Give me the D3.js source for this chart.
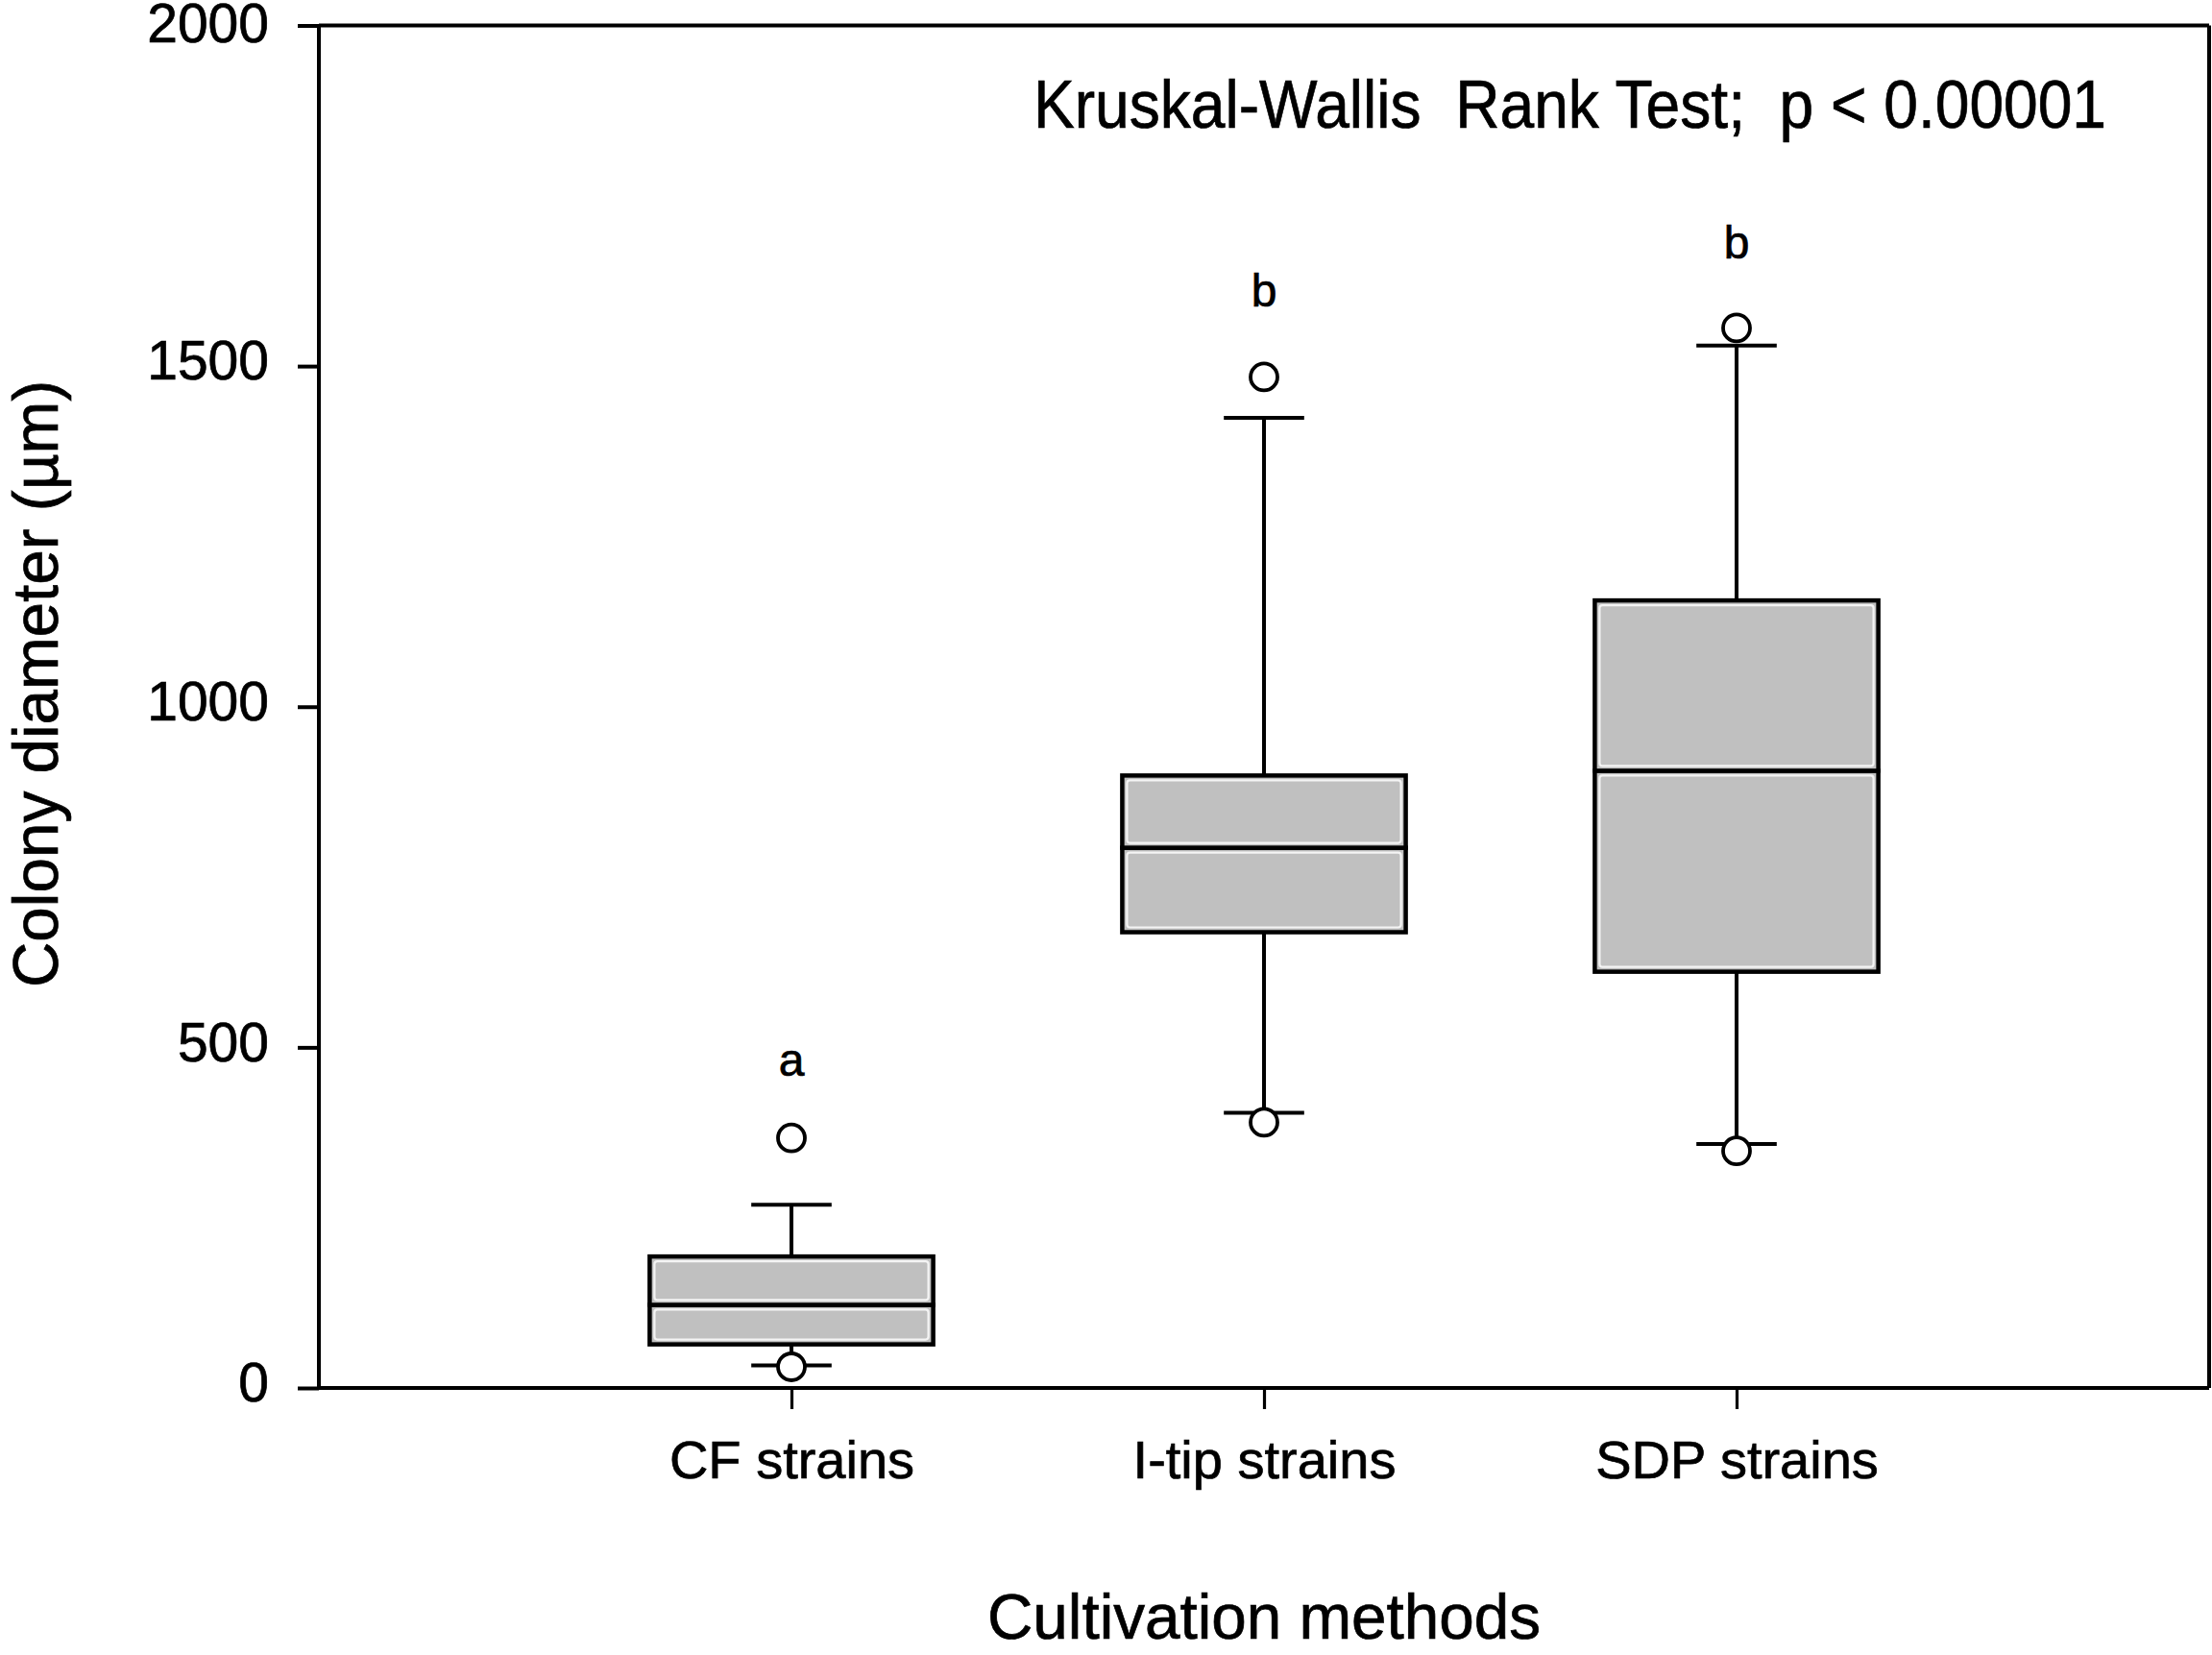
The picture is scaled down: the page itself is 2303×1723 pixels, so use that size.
<!DOCTYPE html>
<html><head><meta charset="utf-8">
<script src="https://cdn.jsdelivr.net/npm/d3@7"></script>
<style>html,body{margin:0;padding:0;background:#fff;}svg{display:block;}</style>
</head><body>
<script>
const categories = ["CF strains", "I-tip strains", "SDP strains"];
const q1 = [64, 669, 611];
const median = [122, 793, 906];
const q3 = [193, 899, 1156];
const whiskerLow = [33, 404, 358];
const whiskerHigh = [269, 1424, 1530];
const outlierHigh = [367, 1484, 1556];
const outlierLow = [31, 390, 348];
const groupLetters = ["a", "b", "b"];
const letterAt = [458, 1588, 1658];
const yTicks = [0, 500, 1000, 1500, 2000];
const yTitle = "Colony diameter (µm)";
const xTitle = "Cultivation methods";
const testNote = "Kruskal-Wallis  Rank Test;  p < 0.00001";

const W = 2303, H = 1723;
const m = {left: 332, right: 2300, top: 26.5, bottom: 1445};
const FONT = "'Liberation Sans', Arial, sans-serif";

const svg = d3.select("body").append("svg").attr("width", W).attr("height", H)
  .style("font-family", FONT);
svg.append("rect").attr("width", W).attr("height", H).attr("fill", "#fff");

const x = d3.scalePoint().domain(categories).range([m.left, m.right]).padding(1);
const y = d3.scaleLinear().domain([0, 2000]).range([m.bottom, m.top]);
const step = x.step();
const boxW = step * 0.6, capW = step * 0.17;

const data = categories.map((c, i) => ({c, q1: q1[i], med: median[i], q3: q3[i],
  lo: whiskerLow[i], hi: whiskerHigh[i], oh: outlierHigh[i], ol: outlierLow[i],
  letter: groupLetters[i], ly: letterAt[i]}));

const g = svg.append("g");
const SW = 4;
const TS = 0.7;

data.forEach(d => {
  const cx = x(d.c);
  g.append("line").attr("x1", cx).attr("x2", cx).attr("y1", y(d.q3)).attr("y2", y(d.hi))
    .attr("stroke", "#000").attr("stroke-width", SW);
  g.append("line").attr("x1", cx).attr("x2", cx).attr("y1", y(d.q1)).attr("y2", y(d.lo))
    .attr("stroke", "#000").attr("stroke-width", SW);
  [d.hi, d.lo].forEach(v => g.append("line").attr("x1", cx - capW / 2).attr("x2", cx + capW / 2)
    .attr("y1", y(v)).attr("y2", y(v)).attr("stroke", "#000").attr("stroke-width", SW));
  [[d.q1, d.med], [d.med, d.q3]].forEach(([a, b]) => {
    const y0 = y(b), y1 = y(a);
    g.append("rect").attr("x", cx - boxW / 2).attr("y", y0).attr("width", boxW).attr("height", y1 - y0)
      .attr("fill", "#c0c0c0").attr("stroke", "#000").attr("stroke-width", SW + 0.5);
    const ins = 5;
    g.append("rect").attr("x", cx - boxW / 2 + ins).attr("y", y0 + ins)
      .attr("width", boxW - 2 * ins).attr("height", Math.max(0, y1 - y0 - 2 * ins))
      .attr("rx", 3).attr("fill", "none").attr("stroke", "#f4f4f4").attr("stroke-width", 2.2);
  });
  [d.oh, d.ol].forEach(v => g.append("circle").attr("cx", cx).attr("cy", y(v)).attr("r", 14)
    .attr("fill", "#fff").attr("stroke", "#000").attr("stroke-width", 3.8));
  g.append("text").attr("x", cx).attr("y", y(d.ly)).attr("text-anchor", "middle")
    .attr("font-size", 48).attr("fill", "#000").attr("stroke", "#000").attr("stroke-width", TS)
    .text(d.letter);
});

svg.append("line").attr("x1", m.left).attr("x2", m.right).attr("y1", m.top).attr("y2", m.top)
  .attr("stroke", "#000").attr("stroke-width", SW);
svg.append("line").attr("x1", m.right).attr("x2", m.right).attr("y1", m.top).attr("y2", m.bottom)
  .attr("stroke", "#000").attr("stroke-width", SW);

const yAxis = svg.append("g").attr("transform", `translate(${m.left},0)`)
  .call(d3.axisLeft(y).tickValues(yTicks).tickSize(22).tickPadding(30).tickFormat(d3.format("d")));
yAxis.select(".domain").attr("stroke-width", SW).attr("d", `M0,${m.top}V${m.bottom}`);
yAxis.selectAll(".tick line").attr("stroke-width", SW);
yAxis.selectAll(".tick text").attr("font-size", 57).attr("font-family", FONT).attr("fill", "#000")
  .attr("stroke", "#000").attr("stroke-width", TS).attr("dy", d => d === 2000 ? "0.3em" : "0.24em");

const xAxis = svg.append("g").attr("transform", `translate(0,${m.bottom})`)
  .call(d3.axisBottom(x).tickSize(22).tickPadding(30));
xAxis.select(".domain").attr("stroke-width", SW).attr("d", `M${m.left},0H${m.right}`);
xAxis.selectAll(".tick line").attr("stroke-width", 3.2);
xAxis.selectAll(".tick text").attr("font-size", 56).attr("font-family", FONT).attr("fill", "#000")
  .attr("stroke", "#000").attr("stroke-width", TS).attr("dy", "0.75em");

svg.append("text").attr("transform", `translate(60,712) rotate(-90)`).attr("text-anchor", "middle")
  .attr("font-size", 66).attr("textLength", 632).attr("lengthAdjust", "spacingAndGlyphs")
  .attr("stroke", "#000").attr("stroke-width", TS).text(yTitle);
svg.append("text").attr("x", (m.left + m.right) / 2).attr("y", 1706).attr("text-anchor", "middle")
  .attr("font-size", 66).attr("textLength", 576).attr("lengthAdjust", "spacingAndGlyphs")
  .attr("stroke", "#000").attr("stroke-width", TS).text(xTitle);
svg.append("text").attr("x", 1076).attr("y", 133)
  .attr("font-size", 70).attr("textLength", 1117).attr("lengthAdjust", "spacingAndGlyphs")
  .attr("stroke", "#000").attr("stroke-width", TS)
  .style("white-space", "pre").text(testNote);
</script>
</body></html>
